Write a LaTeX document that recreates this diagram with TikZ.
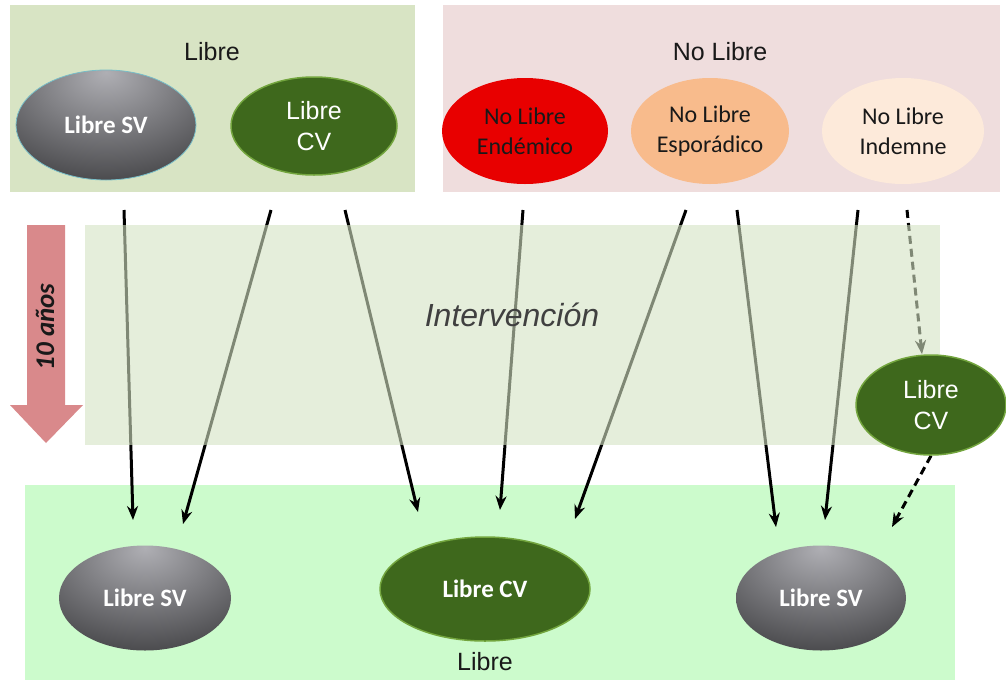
\documentclass[tikz,border=0pt]{standalone}
\usepackage{fontspec}
\setmainfont{Liberation Sans}
\newfontfamily\carlito{Carlito}
\usetikzlibrary{arrows.meta,shapes.geometric}
\definecolor{boxgreen}{RGB}{216,228,196}
\definecolor{boxpink}{RGB}{239,221,221}
\definecolor{bandmid}{RGB}{213,227,195}
\definecolor{bandlow}{RGB}{204,251,204}
\definecolor{pinkarrow}{RGB}{217,137,139}
\definecolor{redell}{RGB}{232,0,0}
\definecolor{peachell}{RGB}{248,187,140}
\definecolor{paleell}{RGB}{253,234,218}
\definecolor{svin}{RGB}{175,175,180}
\definecolor{svout}{RGB}{30,30,32}
\definecolor{cvin}{RGB}{62,104,28}
\definecolor{cvmid}{RGB}{84,130,42}
\definecolor{cvout}{RGB}{140,185,85}
\definecolor{cvrim}{RGB}{115,165,62}
\definecolor{svrim}{RGB}{120,190,200}
\definecolor{txtdark}{RGB}{25,25,25}
\pgfdeclareradialshading{svshade}{\pgfpoint{0bp}{24bp}}{color(0bp)=(svin); color(55bp)=(svout); color(80bp)=(svout)}
\pgfdeclareradialshading{cvshade}{\pgfpoint{0bp}{0bp}}{color(0bp)=(cvin); color(25bp)=(cvin); color(42bp)=(cvmid); color(50bp)=(cvout)}
\pgfdeclarelayer{bg}
\pgfdeclarelayer{band}
\pgfdeclarelayer{front}
\pgfsetlayers{bg,main,band,front}
\begin{document}
\begin{tikzpicture}[x=1pt,y=-1pt,
  ell/.style={ellipse,inner sep=0pt,align=center},
  svnode/.style={ell,shading=svshade,text=white,font=\carlito\bfseries\fontsize{25}{28}\selectfont},
  cvnode/.style={ell,shading=cvshade,draw=cvrim,line width=1.5pt,text=white},
  cvtwo/.style={cvnode,font=\fontsize{25}{31}\selectfont},
  nlnode/.style={ell,text=txtdark,font=\carlito\fontsize{24}{30}\selectfont},
  title/.style={font=\fontsize{25}{29}\selectfont,text=txtdark},
  flow/.style={draw=black,line width=3pt,-{Stealth[length=14pt,width=11pt]}},
  dflow/.style={flow,dash pattern=on 8pt off 5pt}]
\begin{pgfonlayer}{bg}
\fill[white] (0,0) rectangle (1006,683);
\node[fill=boxgreen,minimum width=405pt,minimum height=187pt,inner sep=0pt] (boxL) at (212.5,98.5) {};
\node[fill=boxpink,minimum width=557pt,minimum height=187pt,inner sep=0pt] (boxR) at (721.5,98.5) {};
\node[fill=bandlow,minimum width=930pt,minimum height=195pt,inner sep=0pt] (boxB) at (490,582.5) {};
\end{pgfonlayer}
\useasboundingbox (0,0) rectangle (1006,683);

\node[title] (tL) at (212,52) {Libre};
\node[title] (tR) at (720,52) {No Libre};
\node[title] (tB) at (485,662) {Libre};

\node[svnode,draw=svrim,line width=0.8pt,minimum width=180pt,minimum height=110pt] (sv1) at (106,125) {Libre SV};
\node[cvtwo,minimum width=166pt,minimum height=98pt] (cv1) at (314,126) {Libre\\CV};
\node[nlnode,fill=redell,minimum width=166pt,minimum height=106pt] (nle) at (525,131) {No Libre\\Endémico};
\node[nlnode,fill=peachell,minimum width=158pt,minimum height=106pt] (nls) at (710,131) {No Libre\\Esporádico};
\node[nlnode,fill=paleell,minimum width=162pt,minimum height=106pt] (nli) at (903,131) {No Libre\\Indemne};

\node[svnode,minimum width=172pt,minimum height=105pt] (sv2) at (145,598) {Libre SV};
\node[cvnode,font=\carlito\bfseries\fontsize{25}{28}\selectfont,minimum width=210pt,minimum height=104pt] (cv2) at (485,589) {Libre CV};
\node[svnode,minimum width=170pt,minimum height=105pt] (sv3) at (821,598) {Libre SV};

\begin{pgfonlayer}{front}
\node[cvtwo,minimum width=150pt,minimum height=100pt] (cv3) at (931,405) {Libre\\CV};
\end{pgfonlayer}

% big time arrow
\fill[pinkarrow] (27,225) -- (65,225) -- (65,405) -- (83,405) -- (46,443) -- (10,405) -- (27,405) -- cycle;
\node[rotate=90,text=txtdark,font=\carlito\bfseries\itshape\fontsize{27}{30}\selectfont] (years) at (45,327) {10 años};

% connector end points
\coordinate (s1) at (124,210); \coordinate (e1) at (133,520);
\coordinate (s2) at (271,210); \coordinate (e2) at (183,524);
\coordinate (s3) at (345,210); \coordinate (e3) at (418,512);
\coordinate (s4) at (523,210); \coordinate (e4) at (500,510);
\coordinate (s5) at (686,210); \coordinate (e5) at (575,519);
\coordinate (s6) at (737,210); \coordinate (e6) at (776,527);
\coordinate (s7) at (858,210); \coordinate (e7) at (825,520);
\coordinate (s8) at (907,210);
\coordinate (e9) at (892,527);

\draw[flow] (s1) -- (e1);
\draw[flow] (s2) -- (e2);
\draw[flow] (s3) -- (e3);
\draw[flow] (s4) -- (e4);
\draw[flow] (s5) -- (e5);
\draw[flow] (s6) -- (e6);
\draw[flow] (s7) -- (e7);
\draw[dflow] (s8) -- ([xshift=-9pt]cv3.north);
\draw[dflow] (cv3.south) -- (e9);

\begin{pgfonlayer}{band}
\node[fill=bandmid,fill opacity=0.6,minimum width=855pt,minimum height=220pt,inner sep=0pt] (bandM) at (512.5,335) {};
\node[font=\itshape\fontsize{32}{36}\selectfont,text=black!75] (interv) at (512,315) {Intervención};
\end{pgfonlayer}
\end{tikzpicture}
\end{document}
